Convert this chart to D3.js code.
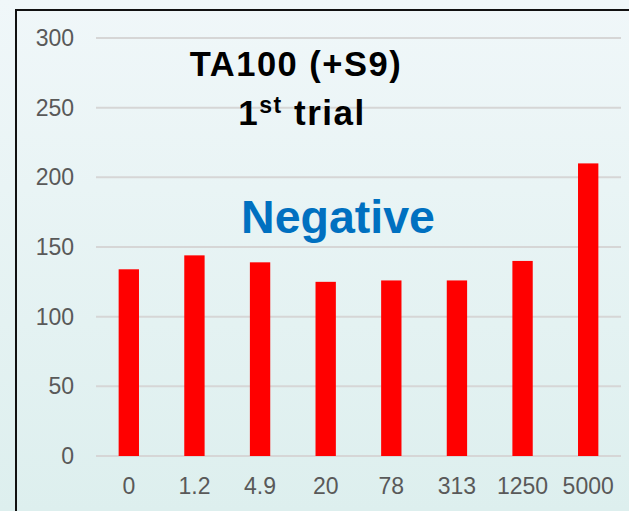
<!DOCTYPE html>
<html>
<head>
<meta charset="utf-8">
<script src="https://cdn.jsdelivr.net/npm/d3@7"></script>
<style>
body { margin: 0; background: #e6f3f3; }
svg { display: block; font-family: "Liberation Sans", Arial, sans-serif; }
</style>
</head>
<body>
<svg width="629" height="511"></svg>
<script>
var doses = ["0", "1.2", "4.9", "20", "78", "313", "1250", "5000"];
var revertants = [134, 144, 139, 125, 126, 126, 140, 210];
var yTicks = [0, 50, 100, 150, 200, 250, 300];

var svg = d3.select("svg");

// background gradient
var defs = svg.append("defs");
var grad = defs.append("linearGradient").attr("id", "bg").attr("x1", 0).attr("y1", 0).attr("x2", 0).attr("y2", 1);
grad.append("stop").attr("offset", "0%").attr("stop-color", "#f0f7f9");
grad.append("stop").attr("offset", "100%").attr("stop-color", "#ddefee");

svg.append("rect").attr("width", 629).attr("height", 511).attr("fill", "url(#bg)");
svg.append("rect").attr("x", 16).attr("y", 10).attr("width", 640).attr("height", 540)
  .attr("fill", "none").attr("stroke", "#111").attr("stroke-width", 2);

var x = d3.scaleBand().domain(doses).range([96, 621]).paddingInner(0.69).paddingOuter(0.345);
var y = d3.scaleLinear().domain([0, 300]).range([456, 38]);

// gridlines
svg.append("g").selectAll("line").data(yTicks).enter().append("line")
  .attr("x1", 96).attr("x2", 621)
  .attr("y1", function(d){return y(d)}).attr("y2", function(d){return y(d)})
  .attr("stroke", "#d6d6d6").attr("stroke-width", 2);

// y axis
var yAxis = d3.axisLeft(y).tickValues(yTicks).tickSize(0).tickPadding(0);
var yG = svg.append("g").attr("transform", "translate(74,0)").call(yAxis);
yG.select(".domain").remove();
yG.selectAll("text").attr("fill", "#595959").style("font-size", "23px");

// x axis
var xAxis = d3.axisBottom(x).tickSize(0).tickPadding(0);
var xG = svg.append("g").attr("transform", "translate(0,478)").call(xAxis);
xG.select(".domain").remove();
xG.selectAll("text").attr("fill", "#595959").style("font-size", "23px");

// bars
svg.append("g").selectAll("rect").data(revertants).enter().append("rect")
  .attr("x", function(d, i){return x(doses[i])})
  .attr("width", x.bandwidth())
  .attr("y", function(d){return y(d)})
  .attr("height", function(d){return y(0) - y(d)})
  .attr("fill", "#ff0000");

// titles
svg.append("text").attr("x", 296).attr("y", 76).attr("text-anchor", "middle")
  .style("font-size", "34.5px").style("font-weight", "bold").style("letter-spacing", "1.5px")
  .attr("fill", "#000").text("TA100 (+S9)");

var t2 = svg.append("text").attr("x", 302).attr("y", 125).attr("text-anchor", "middle")
  .style("font-size", "35px").style("font-weight", "bold").style("letter-spacing", "1.5px").attr("fill", "#000");
t2.append("tspan").text("1");
t2.append("tspan").attr("dy", -12).style("font-size", "23px").text("st");
t2.append("tspan").attr("dy", 12).text(" trial");

svg.append("text").attr("x", 338).attr("y", 233).attr("text-anchor", "middle")
  .style("font-size", "46.5px").style("font-weight", "bold")
  .attr("fill", "#0070c0").text("Negative");
</script>
</body>
</html>
